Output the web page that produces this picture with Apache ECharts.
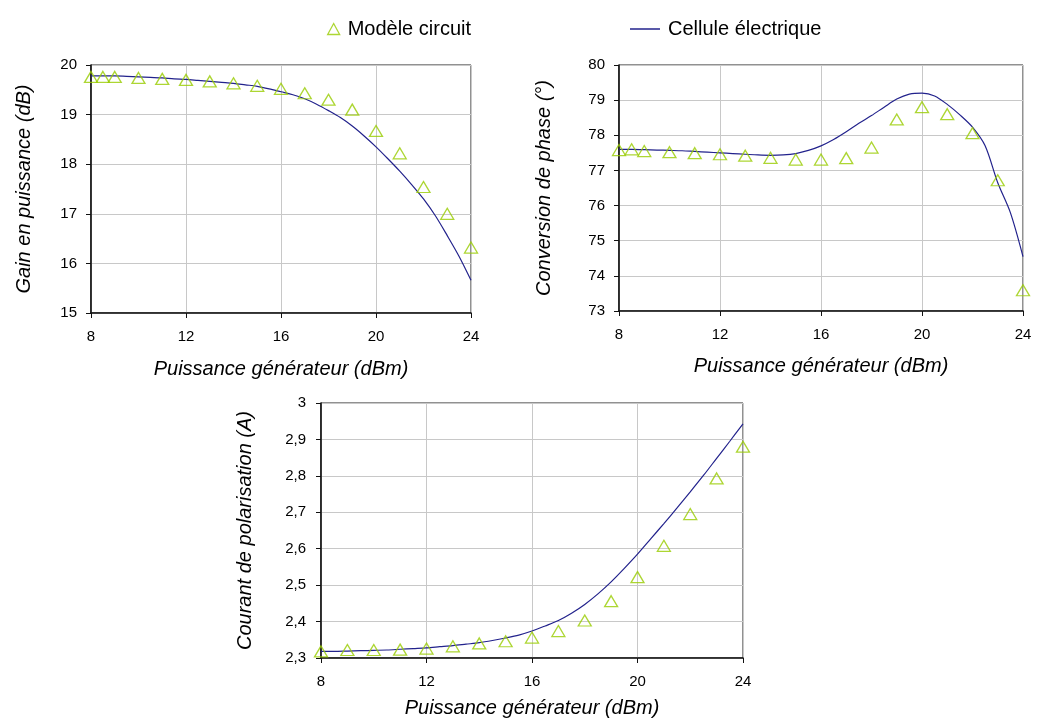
<!DOCTYPE html>
<html>
<head>
<meta charset="utf-8">
<script src="https://cdn.jsdelivr.net/npm/echarts@6/dist/echarts.min.js"></script>
<style>
  html, body { margin: 0; padding: 0; background: #fff; }
  #chart { width: 1037px; height: 720px; }
</style>
</head>
<body>
<div id="chart"></div>
<script>
// Input power sweep (dBm)
const powerCurve = [8, 8.5, 9, 9.5, 10, 10.5, 11, 11.5, 12, 12.5, 13, 13.5, 14, 14.5, 15, 15.5,
  16, 16.5, 17, 17.5, 18, 18.5, 19, 19.5, 20, 20.5, 21, 21.5, 22, 22.5, 23, 23.5, 24];
const powerModelA = [8, 8.5, 9, 10, 11, 12, 13, 14, 15, 16, 17, 18, 19, 20, 21, 22, 23, 24];
const powerModelB = [8, 9, 10, 11, 12, 13, 14, 15, 16, 17, 18, 19, 20, 21, 22, 23, 24];

// Power gain (dB)
const gainCurve = [19.78, 19.78, 19.78, 19.77, 19.76, 19.75, 19.74, 19.72, 19.71, 19.69, 19.67, 19.65,
  19.63, 19.60, 19.57, 19.52, 19.46, 19.40, 19.32, 19.21, 19.08, 18.94, 18.77, 18.57, 18.35, 18.11,
  17.86, 17.59, 17.30, 16.96, 16.56, 16.14, 15.66];
const gainModel = [19.76, 19.76, 19.76, 19.74, 19.72, 19.70, 19.67, 19.63, 19.58, 19.52, 19.43, 19.30,
  19.10, 18.67, 18.22, 17.54, 17.00, 16.32];

// Phase conversion (degrees)
const phaseCurve = [77.60, 77.60, 77.59, 77.58, 77.57, 77.56, 77.54, 77.52, 77.50, 77.48, 77.46, 77.44,
  77.43, 77.44, 77.48, 77.57, 77.70, 77.88, 78.10, 78.34, 78.56, 78.80, 79.03, 79.17, 79.20, 79.12,
  78.88, 78.58, 78.23, 77.70, 76.65, 75.80, 74.55];
const phaseModel = [77.58, 77.60, 77.55, 77.52, 77.49, 77.46, 77.42, 77.36, 77.31, 77.31, 77.35, 77.65,
  78.45, 78.80, 78.60, 78.06, 76.72, 73.59];

// Bias current (A)
const currentCurve = [2.318, 2.318, 2.319, 2.320, 2.321, 2.322, 2.324, 2.326, 2.328, 2.331, 2.334, 2.338,
  2.342, 2.348, 2.355, 2.363, 2.374, 2.388, 2.403, 2.423, 2.447, 2.476, 2.509, 2.546, 2.585, 2.627,
  2.669, 2.712, 2.756, 2.801, 2.848, 2.895, 2.943];
const currentModel = [2.318, 2.322, 2.322, 2.323, 2.326, 2.332, 2.340, 2.346, 2.356, 2.374, 2.403, 2.456,
  2.522, 2.608, 2.695, 2.793, 2.880];

const xTitle = 'Puissance générateur (dBm)';
const yTitles = ['Gain en puissance (dB)', 'Conversion de phase (°)', 'Courant de polarisation (A)'];
const modelName = 'Modèle circuit';
const curveName = 'Cellule électrique';

const FONT = '"Liberation Sans", Arial, sans-serif';
const MODEL_COLOR = '#99cc00';
const CURVE_COLOR = '#22228c';

const zip = (xs, ys) => xs.map((x, i) => [x, ys[i]]);

const grids = [
  { left: 91, top: 65, width: 380, height: 248 },
  { left: 619, top: 65, width: 404, height: 246 },
  { left: 321, top: 403, width: 422, height: 255 }
].map(g => Object.assign({ show: true, borderColor: '#222', borderWidth: 1, backgroundColor: '#fff' }, g));

function xAxisFor(gridIndex, nameGap) {
  return {
    type: 'value', gridIndex, min: 8, max: 24, interval: 4,
    name: xTitle, nameLocation: 'middle', nameGap,
    nameTextStyle: { fontFamily: FONT, fontSize: 20, fontStyle: 'italic', color: '#000' },
    axisLine: { show: true, onZero: false, lineStyle: { color: '#111', width: 1.6 } },
    axisTick: { show: true, inside: false, length: 5, lineStyle: { color: '#111' } },
    axisLabel: { fontFamily: FONT, fontSize: 15, color: '#000', margin: 16 },
    splitLine: { show: true, lineStyle: { color: '#c8c8c8', width: 1 } }
  };
}

function yAxisFor(gridIndex, min, max, interval, nameGap, name, formatter, margin) {
  return {
    type: 'value', gridIndex, min, max, interval,
    name, nameLocation: 'middle', nameGap,
    nameTextStyle: { fontFamily: FONT, fontSize: 20, fontStyle: 'italic', color: '#000' },
    axisLine: { show: true, onZero: false, lineStyle: { color: '#111', width: 1.6 } },
    axisTick: { show: true, inside: false, length: 5, lineStyle: { color: '#111' } },
    axisLabel: { fontFamily: FONT, fontSize: 15, color: '#000', margin, formatter },
    splitLine: { show: true, lineStyle: { color: '#c8c8c8', width: 1 } }
  };
}

const commaFmt = v => String(Math.round(v * 10) / 10).replace('.', ',');

function curveSeries(idx, xs, ys) {
  return {
    name: curveName, type: 'line', xAxisIndex: idx, yAxisIndex: idx,
    data: zip(xs, ys), showSymbol: false, symbol: 'none', smooth: 0.3,
    lineStyle: { color: CURVE_COLOR, width: 1.2 }, itemStyle: { color: CURVE_COLOR },
    z: 2, animation: false
  };
}

function modelSeries(idx, xs, ys) {
  return {
    name: modelName, type: 'scatter', xAxisIndex: idx, yAxisIndex: idx,
    data: zip(xs, ys), symbol: 'triangle', symbolSize: [13, 11],
    itemStyle: { color: 'rgba(255,255,255,0)', borderColor: MODEL_COLOR, borderWidth: 1.3 },
    z: 3, animation: false, clip: false
  };
}

const option = {
  backgroundColor: '#fff',
  animation: false,
  legend: [
    {
      left: 322, top: 14, data: [modelName], icon: 'triangle',
      itemWidth: 12, itemHeight: 11,
      itemStyle: { color: 'rgba(255,255,255,0)', borderColor: MODEL_COLOR, borderWidth: 1.3 },
      textStyle: { fontFamily: FONT, fontSize: 20, color: '#000', padding: [0, 0, 0, 3] }
    },
    {
      left: 625, top: 14, data: [curveName], icon: 'rect',
      itemWidth: 30, itemHeight: 1.5,
      itemStyle: { color: CURVE_COLOR },
      textStyle: { fontFamily: FONT, fontSize: 20, color: '#000', padding: [0, 0, 0, 3] }
    }
  ],
  grid: grids,
  xAxis: [xAxisFor(0, 46), xAxisFor(1, 45), xAxisFor(2, 40)],
  yAxis: [
    yAxisFor(0, 15, 20, 1, 57, yTitles[0], null, 14),
    yAxisFor(1, 73, 80, 1, 65, yTitles[1], null, 14),
    yAxisFor(2, 2.3, 3, 0.1, 66, yTitles[2], commaFmt, 15)
  ],
  series: [
    curveSeries(0, powerCurve, gainCurve),
    modelSeries(0, powerModelA, gainModel),
    curveSeries(1, powerCurve, phaseCurve),
    modelSeries(1, powerModelA, phaseModel),
    curveSeries(2, powerCurve, currentCurve),
    modelSeries(2, powerModelB, currentModel)
  ]
};

const chart = echarts.init(document.getElementById('chart'), null, { renderer: 'canvas' });
chart.setOption(option);
</script>
</body>
</html>
